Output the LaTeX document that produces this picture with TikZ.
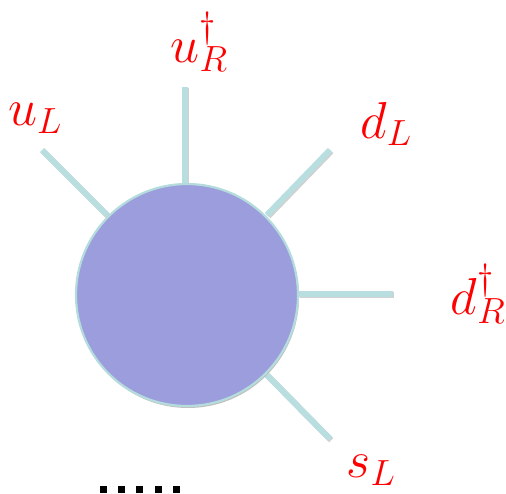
\documentclass[tikz,border=0pt]{standalone}
\usepackage{fix-cm}
\usetikzlibrary{shadows}
\definecolor{blobfill}{HTML}{9C9DDC}
\definecolor{blobedge}{HTML}{B4DCDC}
\definecolor{leg}{HTML}{B8DEE0}
\definecolor{lab}{HTML}{FF0000}
\begin{document}
\begin{tikzpicture}[x=1pt,y=-1pt,
  legline/.style={draw=leg,line width=6pt},
  legshadow/.style={draw=black!18,line width=6pt,transform canvas={shift={(1.2pt,-1.2pt)}}},
  label/.style={text=lab,inner sep=0pt,font=\fontsize{52}{60}\selectfont},
  blob/.style={circle,draw=blobedge,line width=2.2pt,fill=blobfill,minimum size=222pt,inner sep=0pt,
    drop shadow={shadow xshift=1pt,shadow yshift=-2pt,opacity=0.25,fill=black}},
  dotsq/.style={fill=black}]
\useasboundingbox (0,0) rectangle (506,493);
\coordinate (eUL) at (42,150);
\coordinate (eUR) at (185,87);
\coordinate (eDL) at (330,150);
\coordinate (eDR) at (393,294);
\coordinate (eSL) at (330,439);
\coordinate (c) at (187,295);
\path (c) ++(-80,-80) coordinate (sUL)
      (c) ++(-2,-112) coordinate (sUR)
      (c) ++(80,-80) coordinate (sDL)
      (c) ++(112,-1) coordinate (sDR)
      (c) ++(80,80) coordinate (sSL);
\foreach \a/\b in {sUL/eUL,sUR/eUR,sDL/eDL,sDR/eDR,sSL/eSL}
  \draw[legshadow] (\a) -- (\b);
\foreach \a/\b in {sUL/eUL,sUR/eUR,sDL/eDL,sDR/eDR,sSL/eSL}
  \draw[legline] (\a) -- (\b);
\node[blob] (blob) at (c) {};
\node[label] (lUL) at (35,118) {$u_L$};
\node[label] (lUR) at (199,42) {$u_R^\dagger$};
\node[label] (lDL) at (386,124) {$d_L$};
\node[label] (lDR) at (478,294) {$d_R^\dagger$};
\node[label] (lSL) at (371,470) {$s_L$};
\foreach \x [count=\i] in {103,121,139,158,176}
  \node[dotsq,minimum size=7pt,inner sep=0pt] (dot\i) at (\x,489.5) {};
\end{tikzpicture}
\end{document}
